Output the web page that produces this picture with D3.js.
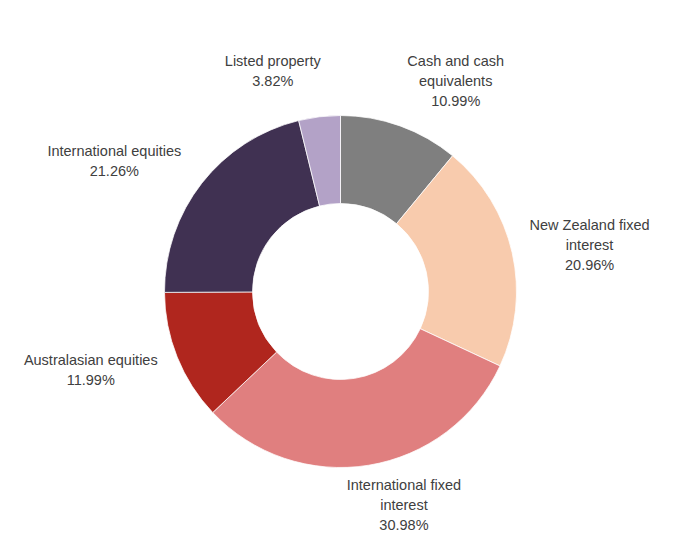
<!DOCTYPE html>
<html>
<head>
<meta charset="utf-8">
<script src="https://cdn.jsdelivr.net/npm/d3@7/dist/d3.min.js"></script>
<style>
  body { margin: 0; background: #fff; }
  svg { display: block; }
</style>
</head>
<body>
<svg id="chart" width="693" height="547"></svg>
<script>
// data
var categories = ["Cash and cash equivalents", "New Zealand fixed interest", "International fixed interest",
    "Australasian equities", "International equities", "Listed property"];
var values = [10.99, 20.96, 30.98, 11.99, 21.26, 3.82];
// label text, wrapped like the original
var labelLines = [
    ["Cash and cash", "equivalents"],
    ["New Zealand fixed", "interest"],
    ["International fixed", "interest"],
    ["Australasian equities"],
    ["International equities"],
    ["Listed property"]
];
var colors = ["#7f7f7f", "#f8cbad", "#e07f7f", "#b0261e", "#403152", "#b3a2c7"];

// label nudges (layout only, px from the centroid at labelRadius)
var labelNudge = [[34, 15], [15, 6], [25, -23], [-27, -11], [-37, 17], [-39, 18]];

var svg = d3.select("#chart");
var cx = 340.5, cy = 291.5;
var outerR = 176, innerR = 88, labelRadius = 240;

var slices = categories.map(function (c, i) {
    return { name: c, value: values[i], lines: labelLines[i], color: colors[i], nudge: labelNudge[i] };
});

var pie = d3.pie().sort(null).value(function (d) { return d.value; });
var arc = d3.arc().innerRadius(innerR).outerRadius(outerR);
var labelArc = d3.arc().innerRadius(labelRadius).outerRadius(labelRadius);

var g = svg.append("g").attr("transform", "translate(" + cx + "," + cy + ")");

g.selectAll("path.slice")
    .data(pie(slices))
    .enter().append("path")
    .attr("class", "slice")
    .attr("d", arc)
    .attr("fill", function (d) { return d.data.color; })
    .attr("stroke", "#ffffff")
    .attr("stroke-width", 0.75);

var lineH = 20;
var labels = g.selectAll("text.label")
    .data(pie(slices))
    .enter().append("text")
    .attr("class", "label")
    .attr("text-anchor", "middle")
    .style("font-family", "'Liberation Sans', Arial, sans-serif")
    .style("font-size", "14.5px")
    .attr("fill", "#404040")
    .each(function (d) {
        var c = labelArc.centroid(d);
        var x = c[0] + d.data.nudge[0];
        var y = c[1] + d.data.nudge[1];
        var lines = d.data.lines.concat([d.data.value.toFixed(2) + "%"]);
        var y0 = y - (lines.length - 1) * lineH / 2 + 5;
        var t = d3.select(this);
        lines.forEach(function (ln, k) {
            t.append("tspan").attr("x", x).attr("y", y0 + k * lineH).text(ln);
        });
    });
</script>
</body>
</html>
